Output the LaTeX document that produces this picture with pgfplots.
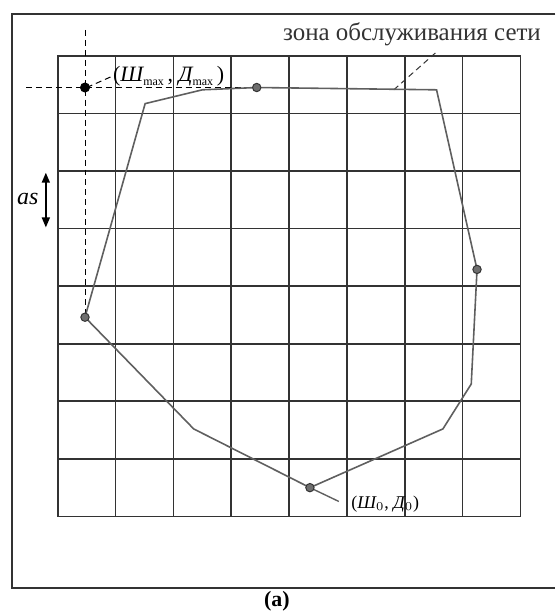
\documentclass[border=0pt]{standalone}
\usepackage{fontspec}
\setmainfont{Liberation Serif}
\usepackage{pgfplots}
\pgfplotsset{compat=1.18}
\usetikzlibrary{arrows.meta}
\definecolor{polyline}{RGB}{95,95,95}
\definecolor{dotfill}{RGB}{110,110,110}
\begin{document}
\begin{tikzpicture}
\begin{axis}[
  scale only axis,
  width=232pt, height=231pt,
  xmin=0, xmax=8, ymin=0, ymax=8,
  xtick={0,...,8}, ytick={0,...,8},
  xticklabels={}, yticklabels={},
  major tick length=0pt,
  grid=major,
  grid style={black!80, line width=0.85pt},
  axis line style={black!80, line width=0.85pt},
  clip=false,
]
% bounding box of the whole figure
\path (axis cs:-1.0,-1.61) rectangle (axis cs:8.603,8.97);
% outer frame (open on the right)
\draw[line width=0.85pt, black!80] (axis cs:8.603,8.727) -- (axis cs:-0.793,8.727) -- (axis cs:-0.793,-1.247) -- (axis cs:8.603,-1.247);

% dashed construction lines
\addplot[black, line width=0.5pt, densely dashed] coordinates {(0.47,8.45) (0.47,3.46)};
\addplot[black, line width=0.5pt, densely dashed] coordinates {(-0.55,7.45) (3.44,7.45)};
\addplot[black, line width=0.5pt, densely dashed] coordinates {(0.50,7.45) (0.95,7.65)};
\addplot[black!80, line width=0.5pt, densely dashed] coordinates {(5.81,7.41) (6.53,8.05)};

% service zone polygon
\addplot[polyline, line width=0.8pt] coordinates {
  (0.47,3.46) (1.51,7.17) (2.50,7.41) (3.44,7.45) (6.55,7.41)
  (7.25,4.29) (7.15,2.30) (6.66,1.52) (4.36,0.50) (2.35,1.52) (0.47,3.46)
};
% leader to (Sh0, D0)
\addplot[polyline, line width=0.7pt] coordinates {(4.36,0.50) (4.86,0.26)};

% marked points
\addplot[only marks, mark=*, mark size=2.1pt, mark options={fill=dotfill, draw=black!80, line width=0.5pt}]
  coordinates {(3.44,7.45) (0.47,3.46) (7.25,4.29) (4.36,0.50)};
\addplot[only marks, mark=*, mark size=2.3pt, mark options={fill=black, draw=black}]
  coordinates {(0.47,7.45)};

% labels
\node[anchor=west, inner sep=0pt, font=\fontsize{11}{13}\selectfont] at (axis cs:0.95,7.64)
  {({\itshape Ш}\raisebox{-0.35ex}{\fontsize{6}{7}\selectfont max}\,, {\itshape Д}\raisebox{-0.35ex}{\fontsize{6}{7}\selectfont max}\,)};
\node[anchor=east, inner sep=0pt, font=\fontsize{12.5}{14}\selectfont, text=black!80] at (axis cs:8.36,8.38)
  {зона обслуживания сети};
\node[anchor=west, inner sep=0pt, font=\fontsize{9}{11}\selectfont] at (axis cs:5.07,0.22)
  {({\itshape Ш}$_0$, {\itshape Д}$_0$)};
\node[inner sep=0pt, font=\fontsize{12}{14}\selectfont\itshape] at (axis cs:-0.52,5.51) {as};
\draw[{Triangle[length=5pt,width=4pt]}-{Triangle[length=5pt,width=4pt]}, line width=0.8pt]
  (axis cs:-0.207,5.97) -- (axis cs:-0.207,5.02);
\node[inner sep=0pt, font=\fontsize{11}{13}\selectfont\bfseries] at (axis cs:3.79,-1.47) {(a)};
\end{axis}
\end{tikzpicture}
\end{document}
